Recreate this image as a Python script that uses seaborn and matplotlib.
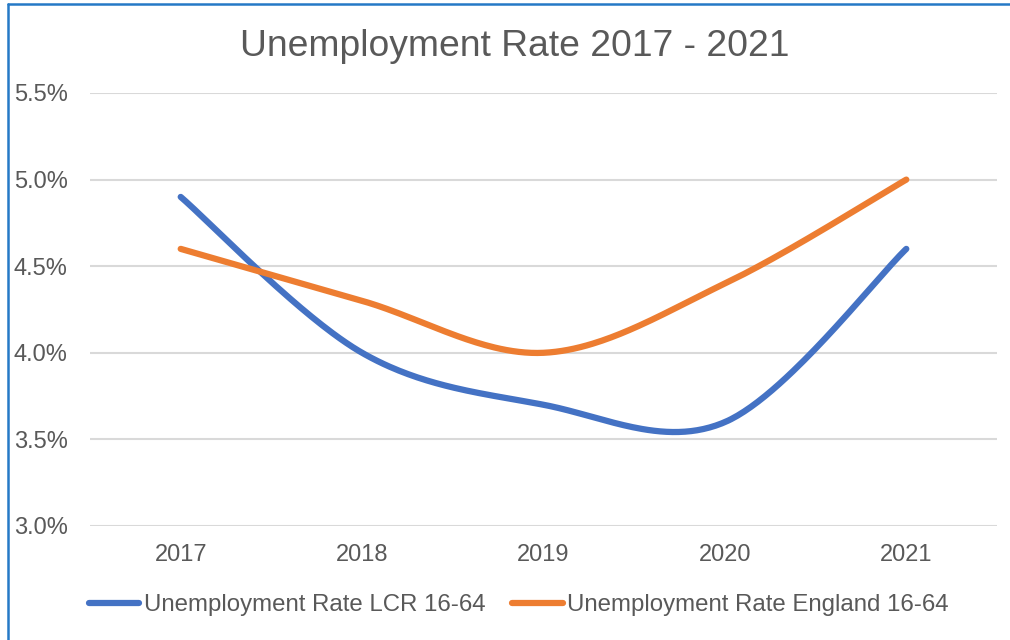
import numpy as np
import pandas as pd
import matplotlib
matplotlib.use("Agg")
import matplotlib.pyplot as plt
from matplotlib.lines import Line2D
from matplotlib.ticker import FuncFormatter
import seaborn as sns

# Data
years = ["2017", "2018", "2019", "2020", "2021"]
lcr_rate = [4.9, 4.0, 3.7, 3.6, 4.6]
england_rate = [4.6, 4.3, 4.0, 4.4, 5.0]
series_names = ["Unemployment Rate LCR 16-64", "Unemployment Rate England 16-64"]
series_colors = ["#4472C4", "#ED7D31"]
yticks = [3.0, 3.5, 4.0, 4.5, 5.0, 5.5]
title = "Unemployment Rate 2017 - 2021"


def smooth_curve(values, samples=60):
    """Cardinal (Catmull-Rom) Bezier smoothing through every data point."""
    pts = np.column_stack([np.arange(len(values), dtype=float), np.asarray(values, float)])
    padded = np.vstack([pts[0], pts, pts[-1]])
    xs, ys = [], []
    t = np.linspace(0, 1, samples)[:, None]
    for i in range(len(pts) - 1):
        p0, p1, p2, p3 = padded[i], padded[i + 1], padded[i + 2], padded[i + 3]
        c1 = p1 + (p2 - p0) / 6.0
        c2 = p2 - (p3 - p1) / 6.0
        seg = ((1 - t) ** 3) * p1 + 3 * ((1 - t) ** 2) * t * c1 + 3 * (1 - t) * t ** 2 * c2 + t ** 3 * p2
        if i > 0:
            seg = seg[1:]
        xs.append(seg[:, 0])
        ys.append(seg[:, 1])
    return np.concatenate(xs), np.concatenate(ys)


frames = []
for name, vals in zip(series_names, [lcr_rate, england_rate]):
    x, y = smooth_curve(vals)
    frames.append(pd.DataFrame({"pos": x, "rate": y, "series": name, "order": np.arange(len(x))}))
df = pd.concat(frames, ignore_index=True)

sns.set_theme(style="white")
plt.rcParams["font.family"] = ["Liberation Sans", "DejaVu Sans"]
text_color = "#595959"

fig = plt.figure(figsize=(10.1, 6.4), dpi=100)
ax = fig.add_axes([90 / 1010, 1 - 526 / 640, (997 - 90) / 1010, (526 - 93) / 640])

sns.lineplot(
    data=df, x="pos", y="rate", hue="series", hue_order=series_names,
    palette=series_colors, sort=False, estimator=None, units="series",
    linewidth=4.5, ax=ax, legend=False, zorder=3,
)
for line in ax.get_lines():
    line.set_solid_capstyle("round")

ax.set_xlim(-0.5, len(years) - 0.5)
ax.set_ylim(yticks[0], yticks[-1])
ax.set_xticks(range(len(years)))
ax.set_xticklabels(years)
ax.set_yticks(yticks)
ax.yaxis.set_major_formatter(FuncFormatter(lambda v, _: f"{v:.1f}%"))
ax.set_xlabel("")
ax.set_ylabel("")
ax.grid(axis="y", color="#D9D9D9", linewidth=1.5, zorder=0)
ax.grid(axis="x", visible=False)
for spine in ax.spines.values():
    spine.set_visible(False)
ax.tick_params(axis="both", length=0, labelsize=17, colors=text_color)
ax.tick_params(axis="y", pad=16)
ax.tick_params(axis="x", pad=13)

fig.text(515 / 1010, 1 - 46 / 640, title, ha="center", va="center",
         fontsize=26.8, color=text_color)

handles = [Line2D([0], [0], color=c, linewidth=4.5, solid_capstyle="round") for c in series_colors]
fig.legend(handles, series_names, loc="center", bbox_to_anchor=(519 / 1010, 1 - 605 / 640),
           ncol=2, frameon=False, fontsize=17.3, handlelength=2.1, handletextpad=0.2,
           columnspacing=1.1, labelcolor=text_color)

# Chart-area border along the top and left edges
border = "#2579C6"
fig.add_artist(Line2D([8 / 1010, 1.0], [1 - 4 / 640, 1 - 4 / 640], transform=fig.transFigure,
                      color=border, linewidth=1.8))
fig.add_artist(Line2D([8 / 1010, 8 / 1010], [0.0, 1 - 4 / 640], transform=fig.transFigure,
                      color=border, linewidth=1.8))

fig.savefig("out.png", dpi=100, facecolor="white")
